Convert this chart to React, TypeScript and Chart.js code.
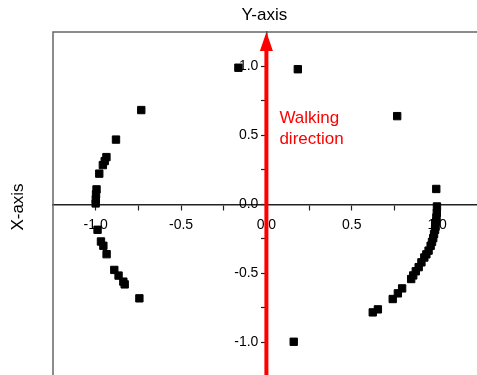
import React, { useEffect, useRef } from 'react';
import { Chart, registerables } from 'chart.js';

Chart.register(...registerables);

// Footstep point positions (x, y)
const xValues = [
  -0.733, -0.881, -0.937, -0.947, -0.958, -0.979, -0.995, -0.998, -0.999, -1.0,
  -0.989, -0.969, -0.955, -0.936, -0.891, -0.866, -0.838, -0.83, -0.744,
  -0.164, 0.184, 0.766, 0.995, 0.16,
  0.999, 0.998, 0.996, 0.995, 0.991, 0.988, 0.982, 0.977, 0.97, 0.962, 0.95, 0.937,
  0.925, 0.908, 0.892, 0.875, 0.86, 0.848, 0.795, 0.77, 0.74, 0.653, 0.623,
];
const yValues = [
  0.684, 0.47, 0.343, 0.314, 0.285, 0.223, 0.109, 0.073, 0.036, 0.007,
  -0.184, -0.269, -0.3, -0.361, -0.475, -0.516, -0.56, -0.58, -0.681,
  0.991, 0.98, 0.64, 0.112, -0.996,
  -0.015, -0.063, -0.095, -0.124, -0.16, -0.184, -0.215, -0.245, -0.272, -0.3, -0.335, -0.362,
  -0.385, -0.42, -0.455, -0.485, -0.515, -0.541, -0.609, -0.645, -0.686, -0.761, -0.783,
];

const xTickLabels = [-1.0, -0.5, 0.0, 0.5, 1.0];
const yTickLabels = [-1.0, -0.5, 0.0, 0.5, 1.0];
const axisMin = -1.25;
const axisMax = 1.25;
const tickStep = 0.25;

const xTitle = 'X-axis';
const yTitle = 'Y-axis';
const arrowLabel = ['Walking', 'direction'];

const FONT = "'Liberation Sans', Arial, sans-serif";

const overlayPlugin = {
  id: 'overlay',
  afterDatasetsDraw(chart: any) {
    const { ctx, chartArea, scales } = chart;
    const x0 = scales.x.getPixelForValue(0);
    ctx.save();
    // red arrow
    ctx.fillStyle = '#ff0000';
    const tipY = chartArea.top;
    const headBase = tipY + 19;
    ctx.fillRect(x0 - 2, headBase - 1, 4, chartArea.bottom - headBase + 1);
    ctx.beginPath();
    ctx.moveTo(x0, tipY);
    ctx.lineTo(x0 + 6.5, headBase);
    ctx.lineTo(x0 - 6.5, headBase);
    ctx.closePath();
    ctx.fill();
    // arrow label
    ctx.font = `17px ${FONT}`;
    ctx.textAlign = 'left';
    ctx.textBaseline = 'middle';
    ctx.fillText(arrowLabel[0], x0 + 13, 118);
    ctx.fillText(arrowLabel[1], x0 + 13, 139);
    ctx.restore();
  },
  afterDraw(chart: any) {
    const { ctx, chartArea, scales } = chart;
    ctx.save();
    // frame (left + top)
    ctx.strokeStyle = '#666';
    ctx.lineWidth = 1.5;
    ctx.beginPath();
    ctx.moveTo(chartArea.left, chartArea.bottom + 2);
    ctx.lineTo(chartArea.left, chartArea.top);
    ctx.lineTo(chartArea.right + 2, chartArea.top);
    ctx.stroke();
    // titles
    ctx.fillStyle = '#000';
    ctx.font = `17px ${FONT}`;
    ctx.textAlign = 'center';
    ctx.textBaseline = 'middle';
    ctx.fillText(yTitle, scales.x.getPixelForValue(0) - 2, 15);
    ctx.translate(18, 207);
    ctx.rotate(-Math.PI / 2);
    ctx.fillText(xTitle, 0, 0);
    ctx.restore();
  },
};

function isLabelled(v: number, list: number[]) {
  return list.some((t) => Math.abs(t - v) < 1e-6);
}

function tickColor(ctx: any) {
  const v = ctx.tick ? ctx.tick.value : 0;
  return Math.abs(v) > 1.1 ? 'rgba(0,0,0,0)' : '#222';
}

export default function App() {
  const canvasRef = useRef<HTMLCanvasElement>(null);

  useEffect(() => {
    if (!canvasRef.current) return;
    const points = xValues.map((x, i) => ({ x, y: yValues[i] }));
    const chart = new Chart(canvasRef.current, {
      type: 'scatter',
      data: {
        datasets: [
          {
            data: points,
            pointStyle: 'rect',
            pointRadius: 5.2,
            pointBorderWidth: 1,
            backgroundColor: '#000',
            borderColor: '#000',
          },
        ],
      },
      options: {
        responsive: false,
        animation: false,
        layout: { padding: { left: 53, top: 32, right: 0, bottom: 0 } },
        plugins: {
          legend: { display: false },
          tooltip: { enabled: false },
        },
        scales: {
          x: {
            type: 'linear',
            position: 'center',
            min: axisMin,
            max: axisMax,
            afterFit: (s: any) => {
              s.height = 0;
              s.paddingLeft = 0;
              s.paddingRight = 0;
            },
            ticks: {
              stepSize: tickStep,
              autoSkip: false,
              maxRotation: 0,
              padding: 7,
              color: '#000',
              font: { family: FONT, size: 14 },
              callback: (v: any) => (isLabelled(Number(v), xTickLabels) ? Number(v).toFixed(1) : ''),
            },
            grid: {
              drawOnChartArea: false,
              drawTicks: true,
              tickLength: 5,
              tickWidth: 1.2,
              tickColor: tickColor,
            },
            border: { display: true, color: '#222', width: 1.5 },
          },
          y: {
            type: 'linear',
            position: 'center',
            min: axisMin,
            max: axisMax,
            afterFit: (s: any) => {
              s.width = 0;
              s.paddingTop = 0;
              s.paddingBottom = 0;
            },
            ticks: {
              stepSize: tickStep,
              autoSkip: false,
              padding: 3,
              color: '#000',
              font: { family: FONT, size: 14 },
              callback: (v: any) => (isLabelled(Number(v), yTickLabels) ? Number(v).toFixed(1) : ''),
            },
            grid: {
              drawOnChartArea: false,
              drawTicks: true,
              tickLength: 5,
              tickWidth: 1.2,
              tickColor: tickColor,
            },
            border: { display: true, color: '#222', width: 1.5 },
          },
        },
      },
      plugins: [overlayPlugin],
    });
    return () => chart.destroy();
  }, []);

  return (
    <div
      style={{
        position: 'fixed',
        left: 0,
        top: 0,
        width: 477,
        height: 375,
        overflow: 'hidden',
        background: '#fff',
      }}
    >
      <canvas ref={canvasRef} width={486} height={383} style={{ display: 'block' }} />
    </div>
  );
}
